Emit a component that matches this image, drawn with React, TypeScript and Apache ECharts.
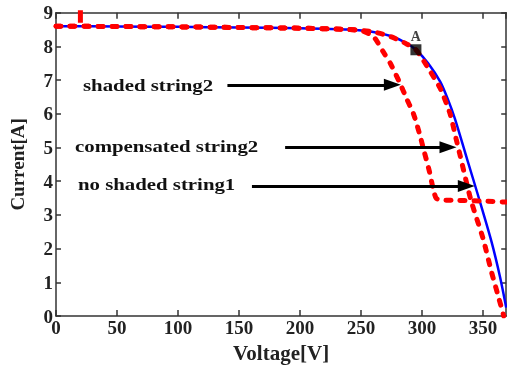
import React, { useEffect, useRef } from "react";
import * as echarts from "echarts";

// Voltage [V], Current [A]
const noShadedString1: [number, number][] = [
  [0, 8.6], [50, 8.59], [100, 8.58], [150, 8.56], [200, 8.54], [240, 8.5], [260, 8.43],
  [275, 8.3], [287, 8.1], [295, 7.9], [305, 7.5], [315, 6.95], [321, 6.45], [327, 5.85],
  [337, 4.65], [347, 3.45], [357, 2.2], [364, 1.15], [369, 0.25],
];
const compensatedString2: [number, number][] = [
  [0, 8.6], [50, 8.59], [100, 8.58], [150, 8.56], [200, 8.54], [240, 8.5], [260, 8.43],
  [275, 8.28], [287, 8.08], [295, 7.9], [306, 7.3], [315, 6.75], [323, 6.0], [328, 5.25],
  [331, 4.8], [340, 3.45], [350, 2.3], [357, 1.3], [362, 0.65], [367, 0],
];
const shadedString2: [number, number][] = [
  [0, 8.6], [50, 8.59], [100, 8.58], [150, 8.56], [200, 8.54], [240, 8.5], [250, 8.47],
  [260, 8.3], [268, 7.85], [274, 7.5], [282, 6.9], [288, 6.4], [293, 6.0], [298, 5.4],
  [302, 4.85], [306, 4.3], [309, 3.8], [311.5, 3.5], [315, 3.44], [330, 3.43],
  [350, 3.41], [369, 3.38],
];
const shadedStartTick: [number, number][] = [[20, 9.3], [20, 8.7]];
const pointA: [number, number] = [295, 7.9];

const xTicks = [0, 50, 100, 150, 200, 250, 300, 350];
const yTicks = [0, 1, 2, 3, 4, 5, 6, 7, 8, 9];

// annotation arrows
const arrowLabels = ["shaded string2", "compensated string2", "no shaded string1"];
const arrowCurrents = [6.86, 5.01, 3.86];
const arrowStartV = [140.5, 187.8, 160.6];
const arrowEndV = [275.7, 321.3, 336.3];
const labelLeftPx = [83, 75, 78];
const labelCurrents = [6.86, 5.05, 3.9];

const FONT = "'Liberation Serif', 'Times New Roman', serif";
const AXIS_COLOR = "#333333";
const ARROW_HEAD = "path://M6,0L12,17L0,17Z";

export default function App() {
  const ref = useRef<HTMLDivElement>(null);
  useEffect(() => {
    if (!ref.current) return;
    const chart = echarts.init(ref.current, undefined, { renderer: "svg" });
    const grid = { left: 55.3, right: 0.8, top: 12.7, bottom: 50.3 };
    const xMax = 369;
    const yMax = yTicks[yTicks.length - 1];

    const baseX = {
      type: "value" as const,
      min: xTicks[0],
      max: xMax,
      interval: xTicks[1] - xTicks[0],
      splitLine: { show: false },
      axisLine: { show: true, onZero: false, lineStyle: { color: AXIS_COLOR, width: 1.5 } },
      axisTick: { show: true, inside: true, length: 6, lineStyle: { color: AXIS_COLOR, width: 1.5 } },
    };
    const baseY = {
      type: "value" as const,
      min: yTicks[0],
      max: yMax,
      interval: 1,
      splitLine: { show: false },
      axisLine: { show: true, onZero: false, lineStyle: { color: AXIS_COLOR, width: 1.5 } },
      axisTick: { show: true, inside: true, length: 5, lineStyle: { color: AXIS_COLOR, width: 1.5 } },
    };

    const dashed = {
      color: "#ff0000",
      width: 5,
      type: [5, 9] as number[],
      cap: "round" as const,
    };

    const markLineData = arrowCurrents.map((c, i) => [
      { coord: [arrowStartV[i], c], symbol: "none" },
      {
        coord: [arrowEndV[i], c],
        symbol: ARROW_HEAD,
        symbolSize: 17,
        symbolKeepAspect: true,
      },
    ]);

    chart.setOption({
      animation: false,
      grid,
      xAxis: [
        {
          ...baseX,
          position: "bottom",
          name: "Voltage[V]",
          nameLocation: "middle",
          nameGap: 26,
          nameTextStyle: { fontFamily: FONT, fontWeight: "bold", fontSize: 21, color: "#222" },
          axisLabel: {
            fontFamily: FONT,
            fontWeight: "bold",
            fontSize: 19,
            color: "#222",
            margin: 2,
            showMaxLabel: false,
          },
        },
        { ...baseX, position: "top", axisLabel: { show: false } },
      ],
      yAxis: [
        {
          ...baseY,
          position: "left",
          name: "Current[A]",
          nameLocation: "middle",
          nameGap: 29,
          nameTextStyle: { fontFamily: FONT, fontWeight: "bold", fontSize: 19, color: "#222" },
          axisLabel: { fontFamily: FONT, fontWeight: "bold", fontSize: 19, color: "#222", margin: 3 },
        },
        { ...baseY, position: "right", axisLabel: { show: false } },
      ],
      series: [
        {
          name: "no shaded string1",
          type: "line",
          data: noShadedString1,
          showSymbol: false,
          smooth: 0.25,
          lineStyle: { color: "#0000ff", width: 2.5 },
          z: 2,
          silent: true,
          markLine: {
            silent: true,
            symbol: ["none", ARROW_HEAD],
            symbolSize: 17,
            symbolKeepAspect: true,
            label: { show: false },
            lineStyle: { color: "#000", width: 3, type: "solid" },
            itemStyle: { color: "#000" },
            data: markLineData,
          },
        },
        {
          name: "compensated string2",
          type: "line",
          data: compensatedString2,
          showSymbol: false,
          smooth: 0.25,
          lineStyle: dashed,
          z: 3,
          silent: true,
        },
        {
          name: "shaded string2",
          type: "line",
          data: shadedString2,
          showSymbol: false,
          smooth: 0.25,
          lineStyle: dashed,
          z: 3,
          silent: true,
        },
        {
          name: "shaded start",
          type: "line",
          data: shadedStartTick,
          showSymbol: false,
          lineStyle: { color: "#ff0000", width: 5 },
          z: 3,
          silent: true,
        },
        {
          name: "A",
          type: "scatter",
          data: [pointA],
          symbol: "rect",
          symbolSize: 11,
          itemStyle: { color: "#000" },
          z: 5,
          silent: true,
          label: {
            show: true,
            position: "top",
            distance: 1,
            formatter: "A",
            fontFamily: FONT,
            fontWeight: "bold",
            fontSize: 14,
            color: "#111",
          },
        },
      ],
    });

    const gr = arrowLabels.map((t, i) => {
      const p = chart.convertToPixel({ xAxisIndex: 0, yAxisIndex: 0 }, [0, labelCurrents[i]]) as number[];
      return {
        type: "text",
        x: labelLeftPx[i],
        y: p[1],
        scaleX: 1.19,
        style: {
          text: t,
          fontFamily: FONT,
          fontWeight: "bold",
          fontSize: 17.5,
          fill: "#111",
          verticalAlign: "middle",
          align: "left",
        },
        z: 10,
      };
    });
    chart.setOption({ graphic: gr });

    return () => chart.dispose();
  }, []);
  return (
    <div
      ref={ref}
      style={{ position: "fixed", left: 0, top: 0, width: 507, height: 368 }}
    />
  );
}
